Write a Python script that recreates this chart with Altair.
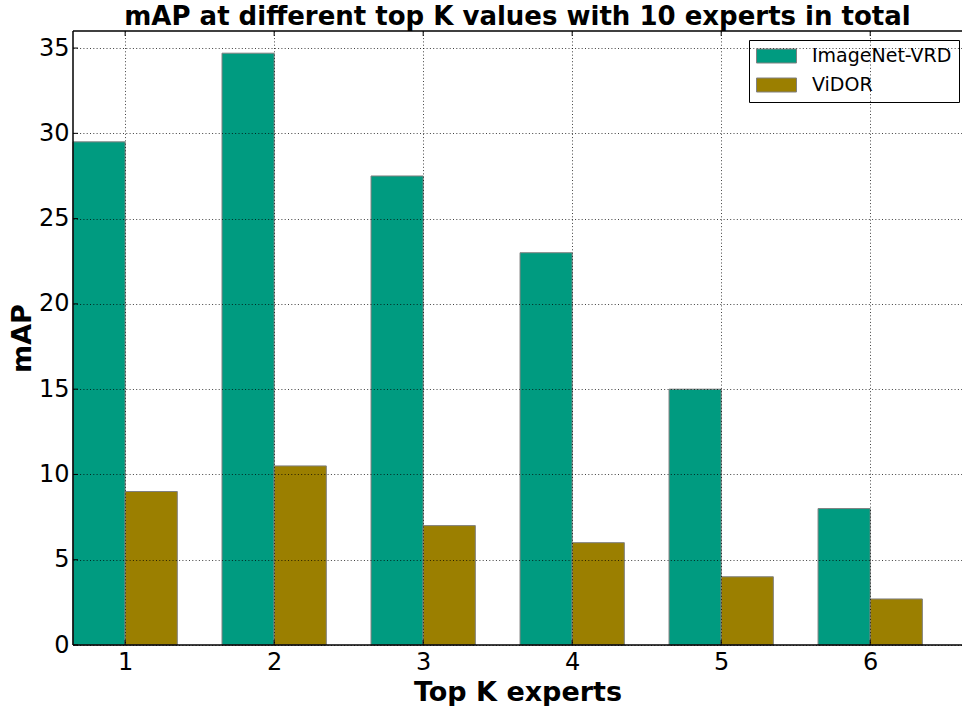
import altair as alt
import pandas as pd

# ---- data ----
k_values = [1, 2, 3, 4, 5, 6]
imagenet_vrd = [29.5, 34.7, 27.5, 23.0, 15.0, 8.0]
vidor = [9.0, 10.5, 7.0, 6.0, 4.0, 2.7]
series_names = ["ImageNet-VRD", "ViDOR"]
series_colors = ["#009b80", "#9b7f00"]
y_ticks = [0, 5, 10, 15, 20, 25, 30, 35]
bar_width = 0.35

rows = []
for k, a, b in zip(k_values, imagenet_vrd, vidor):
    rows.append({"K": k, "series": series_names[0], "value": a, "shift": -bar_width})
    rows.append({"K": k, "series": series_names[1], "value": b, "shift": 0.0})
df = pd.DataFrame(rows)

W, H = 889, 614
FONT = "DejaVu Sans"
XTITLE = "Top K experts"
YTITLE = "mAP"
xscale = alt.Scale(domain=[0.65, 6.616], nice=False, zero=False)
yscale = alt.Scale(domain=[0, 36], nice=False)

GRID = dict(grid=True, gridDash=[1, 2.3], gridColor="black", gridOpacity=0.75, gridWidth=1)
xaxis = alt.Axis(
    values=k_values, format="d", labelFontSize=24, labelPadding=5,
    tickSize=0, ticks=False, domain=False, **GRID,
    title=XTITLE, titleFontSize=27, titleFontWeight="bold",
    titleY=55, titleBaseline="alphabetic", zindex=1)
yaxis = alt.Axis(
    values=y_ticks, labelFontSize=24, labelPadding=4,
    tickSize=0, ticks=False, domain=False, **GRID,
    title=YTITLE, titleFontSize=27, titleFontWeight="bold",
    titleAngle=270, titleX=-43, titleY=H / 2, titleAlign="center",
    titleBaseline="alphabetic", zindex=1)

bars = alt.Chart(df).transform_calculate(
    x0="datum.K + datum.shift",
    x1="datum.K + datum.shift + " + str(bar_width),
    base="0",
).mark_bar(stroke="#808080", strokeWidth=1, opacity=1).encode(
    x=alt.X("x0:Q", scale=xscale, axis=xaxis, title=XTITLE),
    x2="x1:Q",
    y=alt.Y("value:Q", scale=yscale, axis=yaxis, title=YTITLE),
    y2="base:Q",
    color=alt.Color("series:N", scale=alt.Scale(domain=series_names, range=series_colors),
                    legend=alt.Legend(
                        orient="none", legendX=676, legendY=9, title=None,
                        padding=7, strokeColor="black", fillColor="white",
                        cornerRadius=0,
                        symbolType="M-1,-0.35L1,-0.35L1,0.35L-1,0.35Z",
                        symbolSize=1600, symbolStrokeColor="#808080",
                        symbolStrokeWidth=1, symbolOpacity=1,
                        labelFontSize=19, labelFont=FONT, labelColor="black",
                        labelOffset=15, clipHeight=18, rowPadding=10)),
)

ydf = pd.DataFrame({"v": y_ticks})
kdf = pd.DataFrame({"k": k_values})
tl = 5
ytick_left = alt.Chart(ydf).mark_rule(color="black", strokeWidth=1).encode(
    y=alt.Y("v:Q", scale=yscale, axis=yaxis, title=YTITLE), x=alt.value(0), x2=alt.value(tl))
xtick_bottom = alt.Chart(kdf).mark_rule(color="black", strokeWidth=1).encode(
    x=alt.X("k:Q", scale=xscale, axis=xaxis, title=XTITLE), y=alt.value(H - tl), y2=alt.value(H))
xtick_top = alt.Chart(kdf).mark_rule(color="black", strokeWidth=1).encode(
    x=alt.X("k:Q", scale=xscale, axis=xaxis, title=XTITLE), y=alt.value(0), y2=alt.value(tl))

# frame (left, top, bottom spines; the right spine lies beyond the picture edge)
frame_src = pd.DataFrame({"side": ["frame"]})
spine_left = alt.Chart(frame_src).mark_rule(color="black", strokeWidth=1.5).encode(
    x=alt.value(0), y=alt.value(0), y2=alt.value(H))
spine_top = alt.Chart(frame_src).mark_rule(color="black", strokeWidth=1.5).encode(
    y=alt.value(0), x=alt.value(0), x2=alt.value(W))
spine_bottom = alt.Chart(frame_src).mark_rule(color="black", strokeWidth=1.5).encode(
    y=alt.value(H), x=alt.value(0), x2=alt.value(W))

chart = alt.layer(
    bars, ytick_left, xtick_bottom, xtick_top, spine_left, spine_top, spine_bottom
).properties(
    width=W, height=H,
    autosize=alt.AutoSizeParams(type="none"),
    padding={"left": 73, "top": 31, "right": 0, "bottom": 61},
    background="white",
    title=alt.TitleParams(
        "mAP at different top K values with 10 experts in total",
        font=FONT, fontSize=26, fontWeight="bold", color="black",
        anchor="middle", offset=0),
).configure_view(
    stroke=None
).configure_axis(
    labelFont=FONT, titleFont=FONT, labelColor="black", titleColor="black"
)

chart.save("out.html", embed_options={"renderer": "svg", "actions": False})
